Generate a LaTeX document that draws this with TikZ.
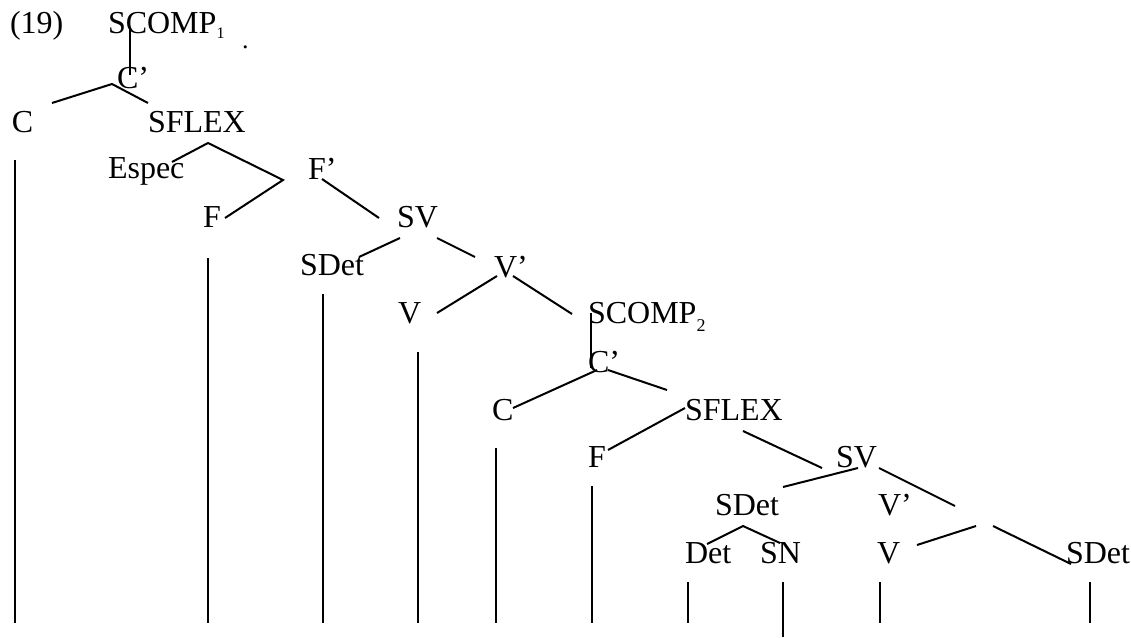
\documentclass[tikz,border=0pt]{standalone}
\usepackage{fontspec}
\setmainfont{Liberation Serif}
\begin{document}
\begin{tikzpicture}[x=1pt,y=-1pt,
  lbl/.style={anchor=base west, inner sep=0pt, outer sep=0pt, font=\fontsize{32}{38}\selectfont},
  br/.style={line width=2pt, line cap=butt},
  stem/.style={line width=1.6pt}]
\useasboundingbox (0,0) rectangle (1131,637);
% ---------- labels ----------
\node[lbl] (ex)     at (10,33)   {(19)};
\node[lbl] (scA)    at (108,33)  {SCOMP\raisebox{-5pt}{\fontsize{16}{16}\selectfont 1}};
\node[lbl, font=\fontsize{26}{26}\selectfont] (dot) at (242,48) {.};
\node[lbl] (cbA)    at (117,88)  {C’};
\node[lbl] (cA)     at (12,132)  {C};
\node[lbl] (sfA)    at (148,132) {SFLEX};
\node[lbl] (espec)  at (108,178) {Espec};
\node[lbl] (fbA)    at (308,179) {F’};
\node[lbl] (fA)     at (203,227) {F};
\node[lbl] (svA)    at (397,227) {SV};
\node[lbl] (sdA)    at (300,275) {SDet};
\node[lbl] (vbA)    at (494,277) {V’};
\node[lbl] (vA)     at (398,323) {V};
\node[lbl] (scB)    at (588,323) {SCOMP\raisebox{-8pt}{\fontsize{18}{18}\selectfont 2}};
\node[lbl] (cbB)    at (588,372) {C’};
\node[lbl] (cB)     at (492,420) {C};
\node[lbl] (sfB)    at (685,420) {SFLEX};
\node[lbl] (fB)     at (588,467) {F};
\node[lbl] (svB)    at (836,467) {SV};
\node[lbl] (sdB)    at (715,515) {SDet};
\node[lbl] (vbB)    at (878,515) {V’};
\node[lbl] (det)    at (685,563) {Det};
\node[lbl] (sn)     at (760,563) {SN};
\node[lbl] (vB)     at (877,563) {V};
\node[lbl] (sdC)    at (1066,563) {SDet};
% ---------- branch end points ----------
\coordinate (p1a) at (130,27);  \coordinate (p1b) at (130,75);
\coordinate (p2a) at (52,103);  \coordinate (p2b) at (112,84); \coordinate (p2c) at (148,103);
\coordinate (p3a) at (172,162); \coordinate (p3b) at (208,143); \coordinate (p3c) at (283,180); \coordinate (p3d) at (225,218);
\coordinate (p4a) at (322,179); \coordinate (p4b) at (379,218);
\coordinate (p5a) at (359,257); \coordinate (p5b) at (400,238);
\coordinate (p5c) at (437,238); \coordinate (p5d) at (475,257);
\coordinate (p6a) at (437,313); \coordinate (p6b) at (497,276);
\coordinate (p6c) at (513,276); \coordinate (p6d) at (572,314);
\coordinate (p7a) at (591,313); \coordinate (p7b) at (591,368);
\coordinate (p8a) at (513,408); \coordinate (p8b) at (597,370);
\coordinate (p8c) at (608,370); \coordinate (p8d) at (667,390);
\coordinate (p9a) at (608,450); \coordinate (p9b) at (685,408);
\coordinate (p9c) at (743,431); \coordinate (p9d) at (822,468);
\coordinate (q1a) at (783,487); \coordinate (q1b) at (858,468);
\coordinate (q1c) at (879,468); \coordinate (q1d) at (955,506);
\coordinate (q2a) at (707,544); \coordinate (q2b) at (743,526); \coordinate (q2c) at (780,543);
\coordinate (q3a) at (917,545); \coordinate (q3b) at (976,526);
\coordinate (q3c) at (993,526); \coordinate (q3d) at (1071,564);
% ---------- branches ----------
\draw[br] (p1a) -- (p1b);
\draw[br] (p2a) -- (p2b) -- (p2c);
\draw[br] (p3a) -- (p3b) -- (p3c) -- (p3d);
\draw[br] (p4a) -- (p4b);
\draw[br] (p5a) -- (p5b);
\draw[br] (p5c) -- (p5d);
\draw[br] (p6a) -- (p6b);
\draw[br] (p6c) -- (p6d);
\draw[br] (p7a) -- (p7b);
\draw[br] (p8a) -- (p8b);
\draw[br] (p8c) -- (p8d);
\draw[br] (p9a) -- (p9b);
\draw[br] (p9c) -- (p9d);
\draw[br] (q1a) -- (q1b);
\draw[br] (q1c) -- (q1d);
\draw[br] (q2a) -- (q2b) -- (q2c);
\draw[br] (q3a) -- (q3b);
\draw[br] (q3c) -- (q3d);
% ---------- leaf stems ----------
\coordinate (s1t) at (15,160);   \coordinate (s1b) at (15,623);
\coordinate (s2t) at (208,258);  \coordinate (s2b) at (208,623);
\coordinate (s3t) at (323,294);  \coordinate (s3b) at (323,623);
\coordinate (s4t) at (418,352);  \coordinate (s4b) at (418,623);
\coordinate (s5t) at (496,448);  \coordinate (s5b) at (496,623);
\coordinate (s6t) at (592,486);  \coordinate (s6b) at (592,623);
\coordinate (s7t) at (688,582);  \coordinate (s7b) at (688,623);
\coordinate (s8t) at (783,582);  \coordinate (s8b) at (783,637);
\coordinate (s9t) at (880,582);  \coordinate (s9b) at (880,623);
\coordinate (s10t) at (1090,582); \coordinate (s10b) at (1090,623);
\foreach \i in {1,...,10} \draw[stem] (s\i t) -- (s\i b);
\end{tikzpicture}
\end{document}
